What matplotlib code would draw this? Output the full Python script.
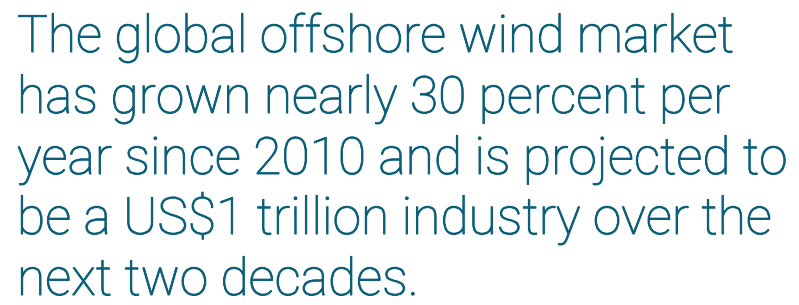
import matplotlib.pyplot as plt
import matplotlib.patheffects as pe

lines = [
    "The global offshore wind market",
    "has grown nearly 30 percent per",
    "year since 2010 and is projected to",
    "be a US$1 trillion industry over the",
    "next two decades.",
]
baselines = [52, 113, 174, 234, 295]  # pixel rows of each baseline, from top

W, H = 799, 305
fig = plt.figure(figsize=(W / 100, H / 100), dpi=100)
fig.patch.set_facecolor("white")

# fit the widest line (line 3) to the width it has in the reference, ~770 px
size = 38
probe = fig.text(0, 0, lines[2], fontsize=size, family="Roboto", fontweight="light")
wpx = probe.get_window_extent(fig.canvas.get_renderer()).width
probe.remove()
size = size * 770 / wpx

for txt, yb in zip(lines, baselines):
    fig.text(17 / W, 1 - yb / H, txt, ha="left", va="baseline",
             fontsize=size, family="Roboto", fontweight="light", color="#0b5f78",
             path_effects=[pe.withStroke(linewidth=0.7, foreground="#0b5f78")])

fig.savefig("out.png", dpi=100, facecolor="white")
